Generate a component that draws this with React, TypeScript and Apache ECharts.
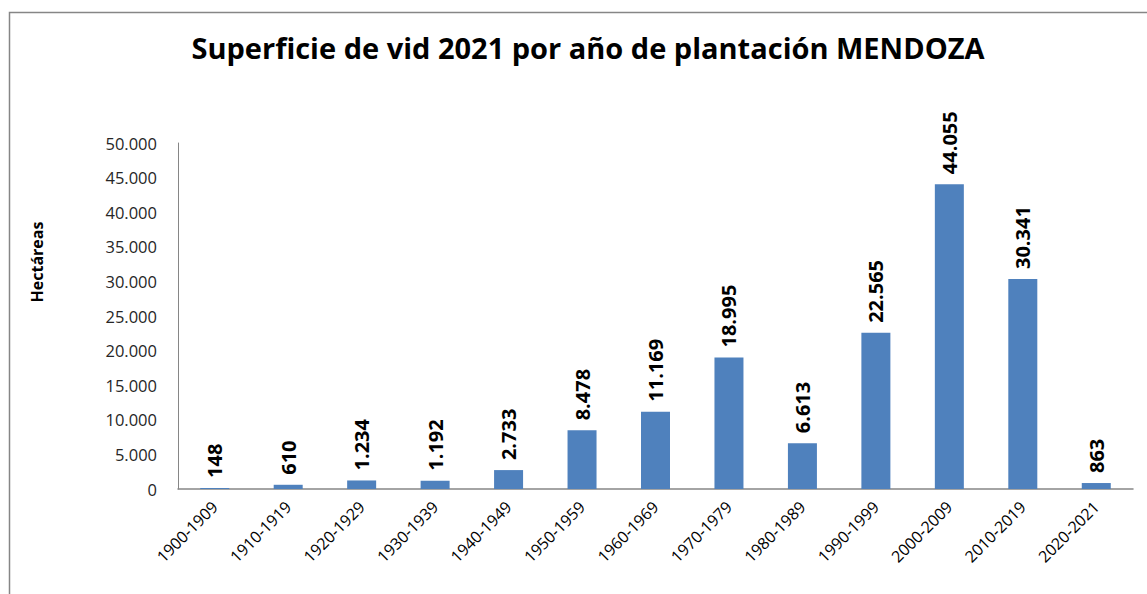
import React, { useEffect, useRef } from "react";
import * as echarts from "echarts";

const categories = [
  "1900-1909", "1910-1919", "1920-1929", "1930-1939", "1940-1949", "1950-1959",
  "1960-1969", "1970-1979", "1980-1989", "1990-1999", "2000-2009", "2010-2019", "2020-2021",
];
const hectares = [148, 610, 1234, 1192, 2733, 8478, 11169, 18995, 6613, 22565, 44055, 30341, 863];
const titleText = "Superficie de vid 2021 por año de plantación MENDOZA";
const yAxisName = "Hectáreas";

const fmt = (v: number) => String(Math.round(v)).replace(/\B(?=(\d{3})+(?!\d))/g, ".");

export default function App() {
  const ref = useRef<HTMLDivElement>(null);
  useEffect(() => {
    document.body.style.margin = "0";
    const chart = echarts.init(ref.current!, null, { renderer: "svg" });
    chart.setOption({
      animation: false,
      backgroundColor: "#ffffff",
      title: {
        text: titleText,
        left: 583,
        textAlign: "center",
        top: 28,
        textStyle: { fontFamily: "Open Sans", fontWeight: "bold", fontSize: 29, color: "#000" },
      },
      graphic: [
        {
          type: "rect",
          shape: { x: 9.5, y: 12.5, width: 1300, height: 800 },
          style: { fill: "none", stroke: "#868686", lineWidth: 1.5 },
          silent: true,
        },
        {
          type: "text",
          x: 37,
          y: 262,
          rotation: Math.PI / 2,
          style: {
            text: yAxisName,
            fontFamily: "Open Sans",
            fontWeight: "bold",
            fontSize: 16,
            fill: "#000",
            align: "center",
            verticalAlign: "middle",
          },
        },
      ],
      grid: { left: 178, right: 14, top: 143, bottom: 105, containLabel: false },
      xAxis: {
        type: "category",
        data: categories,
        axisLine: { lineStyle: { color: "#868686", width: 1.5 } },
        axisTick: { show: false },
        axisLabel: {
          rotate: 45,
          margin: 15,
          fontFamily: "Open Sans",
          fontSize: 16,
          color: "#000",
          interval: 0,
        },
      },
      yAxis: {
        type: "value",
        min: 0,
        max: 50000,
        interval: 5000,
        axisLine: { show: true, lineStyle: { color: "#868686", width: 1 } },
        axisTick: { show: false },
        splitLine: { show: false },
        axisLabel: {
          margin: 21,
          fontFamily: "Open Sans",
          fontSize: 16.5,
          color: "#262626",
          formatter: (v: number) => fmt(v),
        },
      },
      series: [
        {
          type: "bar",
          data: hectares,
          barWidth: 29,
          itemStyle: { color: "#4F81BD" },
          label: {
            show: true,
            position: "top",
            rotate: 90,
            align: "left",
            verticalAlign: "middle",
            distance: 10,
            fontFamily: "Open Sans",
            fontWeight: "bold",
            fontSize: 20,
            color: "#000",
            formatter: (p: any) => fmt(p.value),
          },
        },
      ],
    });
    return () => chart.dispose();
  }, []);
  return <div ref={ref} style={{ width: 1147, height: 594 }} />;
}
